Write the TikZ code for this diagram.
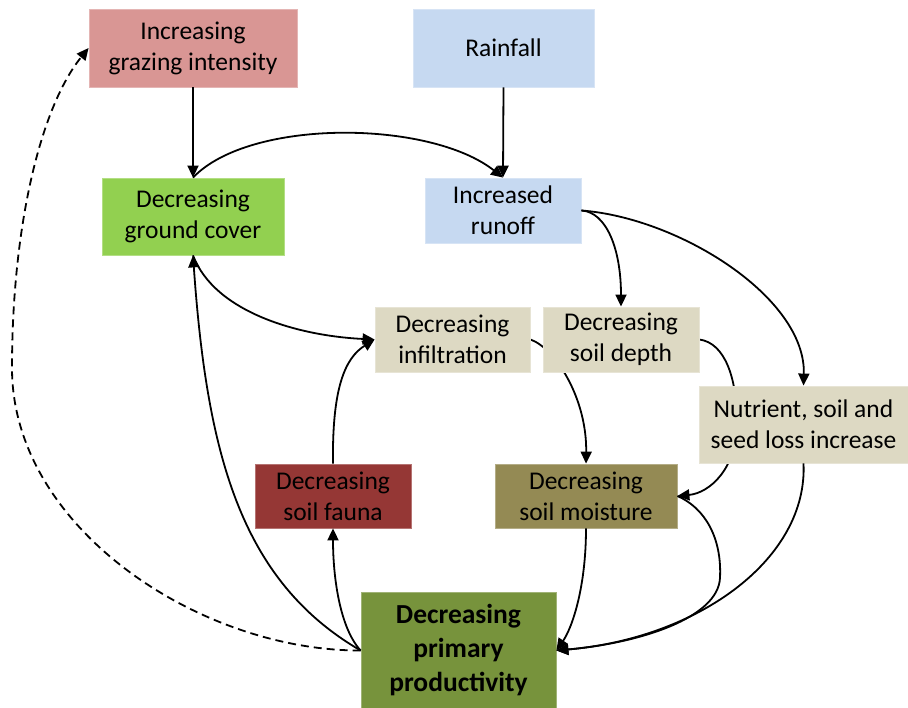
\documentclass[tikz,border=0pt]{standalone}
\usepackage{fontspec}
\setmainfont{Carlito}
\usetikzlibrary{arrows.meta,backgrounds}

\definecolor{grazecol}{HTML}{D99694}
\definecolor{watercol}{HTML}{C6D9F1}
\definecolor{covercol}{HTML}{92D050}
\definecolor{soilcol}{HTML}{DDD9C3}
\definecolor{faunacol}{HTML}{953735}
\definecolor{moistcol}{HTML}{948A54}
\definecolor{prodcol}{HTML}{77933C}

\tikzset{
  box/.style={draw=#1!70!white, fill=#1, line width=0.8pt, inner sep=0pt,
    align=center, font=\fontsize{25.5}{31}\selectfont},
  link/.style={line width=1.8pt, -{Triangle[length=12pt,width=11pt]}},
  feedback/.style={link, dashed, dash pattern=on 8pt off 5pt}
}

\begin{document}
\begin{tikzpicture}[x=1pt,y=1pt]
\useasboundingbox (0,0) rectangle (908,708);

% boxes
\node[box=grazecol, minimum width=208, minimum height=78] (graze) at (193,660) {Increasing\\grazing intensity};
\node[box=watercol, minimum width=181, minimum height=78] (rain) at (503.5,660) {Rainfall};
\node[box=covercol, minimum width=182, minimum height=77] (cover) at (193,491.5) {Decreasing\\ground cover};
\node[box=watercol, minimum width=156, minimum height=65] (runoff) at (503,497.5) {Increased\\runoff};
\node[box=soilcol, minimum width=155, minimum height=65] (infil) at (452.5,368.5) {Decreasing\\infiltration};
\node[box=soilcol, minimum width=156, minimum height=65] (depth) at (621,368.5) {Decreasing\\soil depth};
\node[box=soilcol, minimum width=209, minimum height=77] (loss) at (803.5,283.5) {Nutrient, soil and\\seed loss increase};
\node[box=faunacol, minimum width=156, minimum height=64] (fauna) at (333,212) {Decreasing\\soil fauna};
\node[box=moistcol, minimum width=182, minimum height=64] (moist) at (586,212) {Decreasing\\soil moisture};
\node[box=prodcol, minimum width=195, minimum height=116,
      font=\fontsize{27.5}{34}\selectfont\bfseries] (prod) at (458.5,57.5) {Decreasing\\primary\\productivity};

% connectors that pass behind boxes
\begin{pgfonlayer}{background}
\draw[link] (infil.east) .. controls (555,360) and (587,310) .. (moist.north);
\draw[link] (depth.east) .. controls (725,365) and (737,330) .. (737,285)
  .. controls (737,240) and (710,215) .. (moist.east);
\end{pgfonlayer}

% straight drivers
\draw[link] (graze.south) -- (cover.north);
\draw[link] (rain.south) -- (runoff.north);

% ground cover and runoff
\draw[link] (cover.north) .. controls (250,590) and (430,588) .. (runoff.north);
\draw[link] (cover.south) .. controls (215,395) and (300,372) .. (infil.west);
\draw[link] (runoff.east) .. controls (606,496) and (621,460) .. (depth.north);
\draw[link] (runoff.east) .. controls (680,490) and (806,410) .. (loss.north);

% soil fauna to infiltration
\draw[link] (fauna.north) .. controls (332,320) and (345,350) .. (infil.west);

% into primary productivity
\draw[link] (moist.south) .. controls (586,120) and (572,80) .. (prod.east);
\draw[link] (moist.east) .. controls (705,200) and (722,170) .. (720,130)
  .. controls (718,90) and (640,65) .. (prod.east);
\draw[link] (loss.south) .. controls (808,150) and (700,70) .. (prod.east);

% feedback from primary productivity
\draw[link] (prod.west) .. controls (340,80) and (333,130) .. (fauna.south);
\draw[link] (prod.west) .. controls (241,127) and (207,253) .. (cover.south);
\draw[feedback] (prod.west) .. controls (200,57) and (12,180) .. (12,340)
  .. controls (12,480) and (40,600) .. (graze.west);
\end{tikzpicture}
\end{document}
